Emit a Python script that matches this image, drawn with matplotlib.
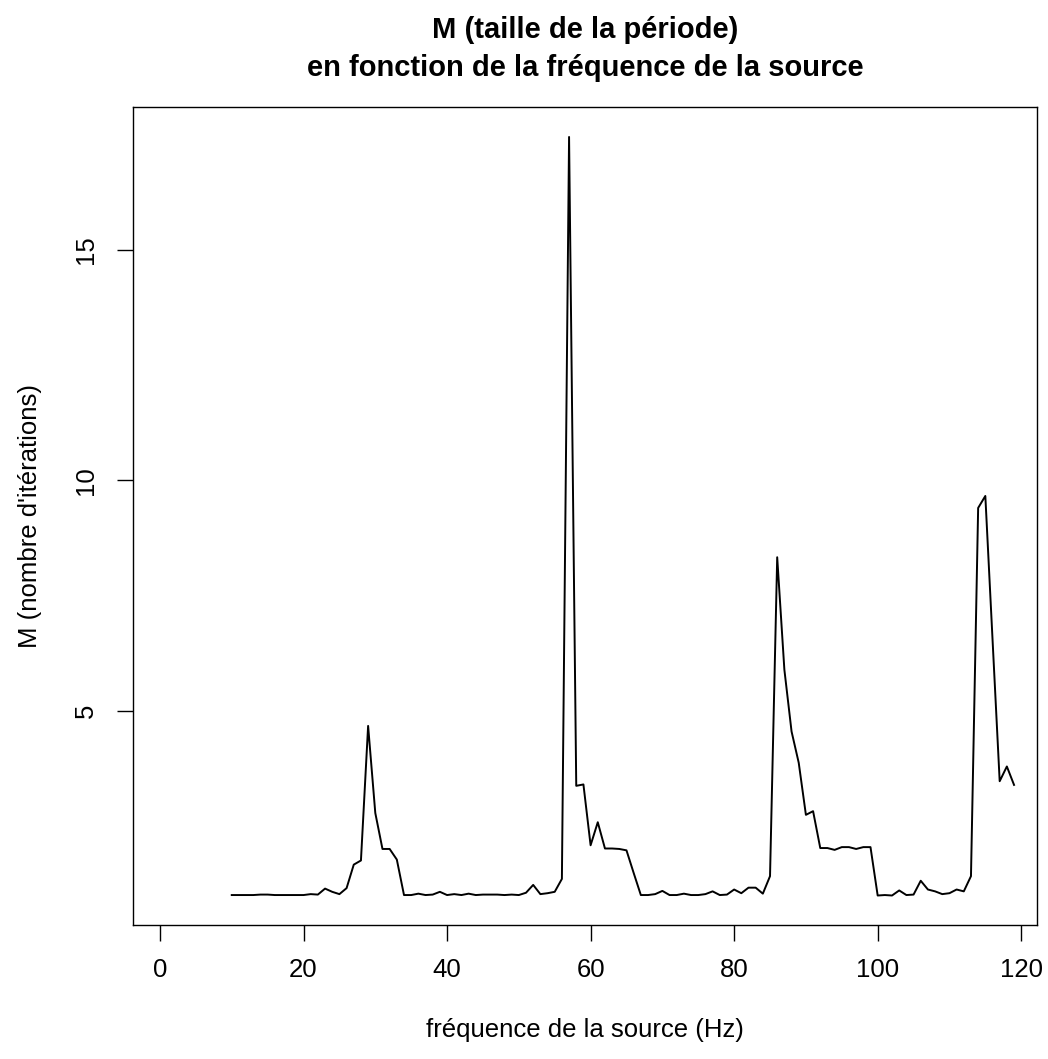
import matplotlib as mpl
mpl.use('Agg')
import matplotlib.pyplot as plt
import numpy as np

mpl.rc('font', family=['Liberation Sans', 'DejaVu Sans'])

# source frequency (Hz), one run per integer frequency
freq = np.arange(10, 120)
# M (period size, number of iterations)
M = [1.0, 1.0, 1.0, 1.0, 1.01, 1.01, 1.0, 1.0, 1.0, 1.0,
     1.0, 1.02, 1.01, 1.14, 1.07, 1.02, 1.15, 1.66, 1.75, 4.67,
     2.78, 2.0, 2.0, 1.77, 1.0, 1.0, 1.03, 1.0, 1.01, 1.07,
     1.0, 1.02, 1.0, 1.03, 1.0, 1.01, 1.01, 1.01, 1.0, 1.01,
     1.0, 1.05, 1.22, 1.02, 1.04, 1.07, 1.35, 17.45, 3.37, 3.40,
     2.08, 2.58, 2.01, 2.01, 2.0, 1.97, 1.48, 1.0, 1.0, 1.02,
     1.09, 1.0, 1.0, 1.03, 1.0, 1.0, 1.02, 1.08, 1.0, 1.01,
     1.12, 1.04, 1.16, 1.16, 1.03, 1.41, 8.33, 5.89, 4.55, 3.87,
     2.74, 2.82, 2.02, 2.02, 1.98, 2.04, 2.04, 2.0, 2.04, 2.04,
     0.99, 1.0, 0.99, 1.1, 1.0, 1.01, 1.31, 1.12, 1.08, 1.02,
     1.04, 1.12, 1.08, 1.41, 9.40, 9.66, 6.56, 3.47, 3.79, 3.39]
xticks = [0, 20, 40, 60, 80, 100, 120]
yticks = [5, 10, 15]

W, H = 1048, 1059
fig = plt.figure(figsize=(W/100., H/100.), dpi=100)
l, r, t, b = 133, 1037, 107, 925
ax = fig.add_axes([l/W, 1-b/H, (r-l)/W, (b-t)/H])

ax.plot(freq, M, color='black', lw=1.4)

ax.set_xlim(-3.76, 122.2)
ax.set_ylim(0.35, 18.1)
ax.set_xticks(xticks)
ax.set_yticks(yticks)
ax.tick_params(direction='out', length=11.5, width=1, labelsize=18.5)
ax.tick_params(axis='x', pad=12)
ax.tick_params(axis='y', pad=14)
for lab in ax.get_yticklabels():
    lab.set_rotation(90)
    lab.set_va('center')
for s in ax.spines.values():
    s.set_linewidth(1)

fs_title = 21
fig.text(0.5 * (l + r) / W, 1-30/H, 'M (taille de la période)', ha='center', va='center',
         fontsize=fs_title, fontweight='bold')
fig.text(0.5 * (l + r) / W, 1-68/H, 'en fonction de la fréquence de la source', ha='center',
         va='center', fontsize=fs_title, fontweight='bold')
fig.text(0.5 * (l + r) / W, 1-1030/H, 'fréquence de la source (Hz)', ha='center', va='center',
         fontsize=18.5)
fig.text(30/W, 1-(t+b)/2/H, "M (nombre d'itérations)", ha='center', va='center',
         rotation=90, fontsize=18.5)

fig.savefig('out.png', dpi=100)
